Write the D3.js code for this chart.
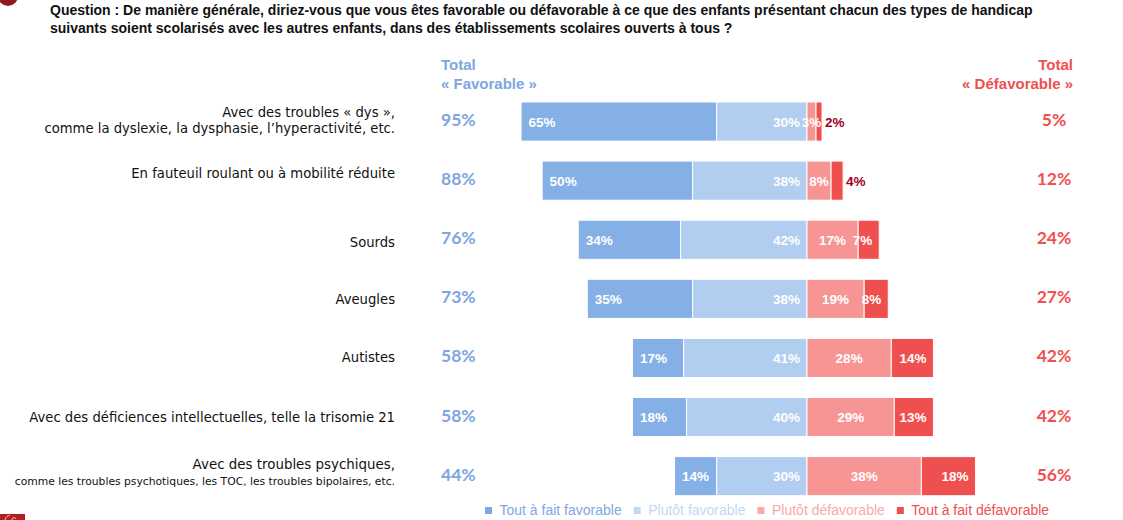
<!DOCTYPE html>
<html><head><meta charset="utf-8">
<script src="https://cdn.jsdelivr.net/npm/d3@7"></script>
<style>body{margin:0;background:#fff}svg{display:block}</style>
</head><body><svg id="c" width="1123" height="520"></svg>
<script>
// ---------- DATA ----------
const titleLines = [
  "Question : De manière générale, diriez-vous que vous êtes favorable ou défavorable à ce que des enfants présentant chacun des types de handicap",
  "suivants soient scolarisés avec les autres enfants, dans des établissements scolaires ouverts à tous ?"
];
const categories = [
  ["Avec des troubles « dys »,", "comme la dyslexie, la dysphasie, l’hyperactivité, etc."],
  ["En fauteuil roulant ou à mobilité réduite"],
  ["Sourds"],
  ["Aveugles"],
  ["Autistes"],
  ["Avec des déficiences intellectuelles, telle la trisomie 21"],
  ["Avec des troubles psychiques,", "comme les troubles psychotiques, les TOC, les troubles bipolaires, etc."]
];
const seriesNames = ["Tout à fait favorable", "Plutôt favorable", "Plutôt défavorable", "Tout à fait défavorable"];
const toutFavorable    = [65, 50, 34, 35, 17, 18, 14];
const plutotFavorable  = [30, 38, 42, 38, 41, 40, 30];
const plutotDefavorable= [3, 8, 17, 19, 28, 29, 38];
const toutDefavorable  = [2, 4, 7, 8, 14, 13, 18];
const totalFavorable   = [95, 88, 76, 73, 58, 58, 44];
const totalDefavorable = [5, 12, 24, 27, 42, 42, 56];
const headerFav = ["Total", "« Favorable »"];
const headerDef = ["Total", "« Défavorable »"];

// ---------- STYLE / LAYOUT ----------
const colors = ["#85B0E6", "#B1CDF0", "#F79595", "#F04F50"];
const legendColors = ["#7FA8E2", "#C3D7F4", "#F8A9A9", "#F04F50"];
const favText = "#7EA6E0", defText = "#F0504F";
const labelDy = [[-4.5, 11.5], [-3], [7], [5], [4.5], [4.5], [-7, 9]];
const labelSize = [[13.2, 13.2], [13.2], [13.2], [13.2], [13.2], [13.2], [13.4, 10.75]];

const svg = d3.select("#c");
const idx = d3.range(categories.length);
const x = d3.scaleLinear().domain([-100, 100]).range([807 - 301, 807 + 301]);
const y = d3.scaleBand().domain(idx).range([92, 92 + 7 * 59.1]).paddingInner(0.338).paddingOuter(0.169);
const bc = i => y(i) + y.bandwidth() / 2;

// decorations
svg.append("circle").attr("cx", 8).attr("cy", -4).attr("r", 10).attr("fill", "#8E1C1F");
svg.append("rect").attr("x", 0).attr("y", 514).attr("width", 25).attr("height", 6).attr("fill", "#B31E24");
svg.append("path").attr("d", "M5 520 C6 516 9 515 10 516 M12 520 C12 517 15 517 16 519").attr("stroke", "#fff").attr("fill", "none").attr("stroke-width", 0.8);

// title
svg.selectAll("text.title").data(titleLines).join("text").attr("class", "title")
  .attr("x", 50).attr("y", (d, i) => 15 + i * 18)
  .attr("font-family", "Liberation Sans, Arial, sans-serif").attr("font-weight", "bold")
  .attr("font-size", 14).attr("fill", "#111").text(d => d);

// headers
svg.selectAll("text.hf").data(headerFav).join("text").attr("class", "hf")
  .attr("x", 441).attr("y", (d, i) => 70 + i * 19)
  .attr("font-family", "Liberation Sans, Arial, sans-serif").attr("font-weight", "bold")
  .attr("font-size", 15).attr("fill", favText).text(d => d);
svg.selectAll("text.hd").data(headerDef).join("text").attr("class", "hd")
  .attr("x", 1073).attr("y", (d, i) => 70 + i * 19).attr("text-anchor", "end")
  .attr("font-family", "Liberation Sans, Arial, sans-serif").attr("font-weight", "bold")
  .attr("font-size", 15).attr("fill", defText).text(d => d);

// category labels
const cat = svg.selectAll("g.cat").data(idx).join("g").attr("class", "cat");
cat.each(function (i) {
  d3.select(this).selectAll("text").data(categories[i]).join("text")
    .attr("x", 395).attr("y", (d, k) => bc(i) + labelDy[i][k]).attr("text-anchor", "end")
    .attr("font-family", "DejaVu Sans, sans-serif").attr("font-size", (d, k) => labelSize[i][k])
    .attr("fill", "#111").text(d => d);
});

// stacked segments
const segs = idx.map(i => {
  const a = toutFavorable[i], b = plutotFavorable[i], c = plutotDefavorable[i], d = toutDefavorable[i];
  return [
    { i, s: 0, x0: -(a + b), x1: -b, v: a },
    { i, s: 1, x0: -b, x1: 0, v: b },
    { i, s: 2, x0: 0, x1: c, v: c },
    { i, s: 3, x0: c, x1: c + d, v: d }
  ];
}).flat();

svg.append("g").selectAll("rect").data(segs).join("rect")
  .attr("x", d => x(d.x0)).attr("y", d => y(d.i))
  .attr("width", d => x(d.x1) - x(d.x0)).attr("height", y.bandwidth())
  .attr("fill", d => colors[d.s]).attr("stroke", "#fff").attr("stroke-width", 1);

const lbl = svg.append("g").selectAll("text").data(segs).join("text")
  .attr("font-family", "Liberation Sans, Arial, sans-serif").attr("font-weight", "bold")
  .attr("font-size", 13.5).attr("y", d => bc(d.i) + 5)
  .text(d => d.v + "%");
lbl.each(function (d) {
  const t = d3.select(this);
  if (d.s === 0) t.attr("x", x(d.x0) + 7.5).attr("text-anchor", "start").attr("fill", "#fff");
  else if (d.s === 1) t.attr("x", x(d.x1) - 7).attr("text-anchor", "end").attr("fill", "#fff");
  else if (d.s === 2) t.attr("x", (x(d.x0) + x(d.x1)) / 2).attr("text-anchor", "middle").attr("fill", "#fff");
  else if (d.v < 5) t.attr("x", x(d.x1) + 3).attr("text-anchor", "start").attr("fill", "#A0001F");
  else t.attr("x", x(d.x1) - 7).attr("text-anchor", "end").attr("fill", "#fff");
});

// totals
svg.append("g").selectAll("text").data(idx).join("text")
  .attr("x", 441).attr("y", i => bc(i) + 4.5)
  .attr("font-family", "Lato, sans-serif").attr("font-weight", "bold").attr("font-size", 17.5)
  .attr("fill", favText).text(i => totalFavorable[i] + "%");
svg.append("g").selectAll("text").data(idx).join("text")
  .attr("x", 1054).attr("y", i => bc(i) + 4.5).attr("text-anchor", "middle")
  .attr("font-family", "Lato, sans-serif").attr("font-weight", "bold").attr("font-size", 17.5)
  .attr("fill", defText).text(i => totalDefavorable[i] + "%");

// legend
const lg = svg.append("g");
let lx = 485;
seriesNames.forEach((name, k) => {
  lg.append("rect").attr("x", lx).attr("y", 507).attr("width", 7).attr("height", 7).attr("fill", legendColors[k]);
  const t = lg.append("text").attr("x", lx + 14.5).attr("y", 515)
    .attr("font-family", "Liberation Sans, Arial, sans-serif").attr("font-size", 14)
    .attr("fill", legendColors[k]).text(name);
  lx = lx + 14.5 + t.node().getComputedTextLength() + 12;
});
</script>
</body></html>
